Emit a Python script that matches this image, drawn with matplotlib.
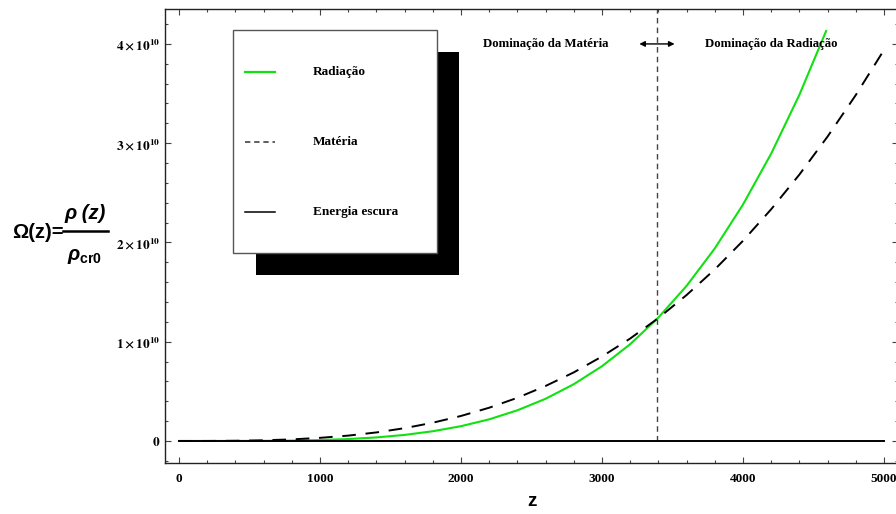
import numpy as np
import matplotlib
matplotlib.use("Agg")
import matplotlib.pyplot as plt
import matplotlib.ticker as mticker
from matplotlib.lines import Line2D
from matplotlib.patches import Rectangle

# valores (Omega em unidades absolutas)
z_mat = [0, 200, 400, 600, 800, 1000, 1200, 1400, 1600, 1800, 2000, 2200, 2400,
         2600, 2800, 3000, 3200, 3400, 3600, 3800, 4000, 4200, 4400, 4600, 4800, 5000]
omega_mat = [0, 0.00025e10, 0.002e10, 0.0068e10, 0.016e10, 0.0315e10, 0.054e10,
             0.086e10, 0.129e10, 0.184e10, 0.252e10, 0.335e10, 0.435e10, 0.554e10,
             0.691e10, 0.851e10, 1.032e10, 1.238e10, 1.470e10, 1.728e10, 2.016e10,
             2.334e10, 2.683e10, 3.066e10, 3.484e10, 3.938e10]

z_rad = [0, 200, 400, 600, 800, 1000, 1200, 1400, 1600, 1800, 2000, 2200, 2400,
         2600, 2800, 3000, 3200, 3400, 3600, 3800, 4000, 4200, 4400, 4590]
omega_rad = [0, 0.00001e10, 0.0002e10, 0.0012e10, 0.0038e10, 0.0093e10, 0.0193e10,
             0.0357e10, 0.061e10, 0.098e10, 0.149e10, 0.218e10, 0.309e10, 0.425e10,
             0.572e10, 0.753e10, 0.975e10, 1.243e10, 1.562e10, 1.939e10, 2.381e10,
             2.894e10, 3.486e10, 4.13e10]

z_de = [0, 5000]
omega_de = [0.69, 0.69]

z_eq = 3390  # igualdade matéria-radiação

labels = ["Radiação", "Matéria", "Energia escura"]
xticks = [0, 1000, 2000, 3000, 4000, 5000]
yticks = [0, 1e10, 2e10, 3e10, 4e10]
ytick_labels = [r"$\mathbf{0}$", r"$\mathbf{1\times10^{10}}$", r"$\mathbf{2\times10^{10}}$",
                r"$\mathbf{3\times10^{10}}$", r"$\mathbf{4\times10^{10}}$"]

plt.rcParams["mathtext.fontset"] = "stix"
plt.rcParams["mathtext.rm"] = "Liberation Sans:bold"
plt.rcParams["mathtext.it"] = "Liberation Sans:bold:italic"
plt.rcParams["mathtext.bf"] = "Liberation Sans:bold"

serif_b = dict(family="Liberation Serif", weight="bold", size=9.5)
W, H = 896, 514

fig = plt.figure(figsize=(8.96, 5.14), dpi=100)
ax = fig.add_axes([165 / W, 51 / H, 733 / W, 454 / H])

ax.plot(z_rad, omega_rad, color="#11e011", lw=1.5, zorder=3)
ax.plot(z_mat, omega_mat, color="black", lw=1.4, dashes=(7, 5), zorder=3)
ax.plot(z_de, omega_de, color="black", lw=1.4, zorder=3)

ax.set_xlim(-100, 5100)
ax.set_ylim(-0.222e10, 4.352e10)

ax.vlines(z_eq, 0, ax.get_ylim()[1], colors="#444444", linestyles=(0, (4, 3)), lw=1.0)

y_ann = 4.0e10
ax.annotate("", xy=(z_eq - 125, y_ann), xytext=(z_eq + 125, y_ann),
            arrowprops=dict(arrowstyle="<|-|>", lw=1.0, color="black",
                            shrinkA=0, shrinkB=0, mutation_scale=8))
ann_font = dict(serif_b, size=9.2)
ax.text(z_eq - 345, y_ann, "Dominação da Matéria", ha="right", va="center", **ann_font)
ax.text(z_eq + 340, y_ann, "Dominação da Radiação", ha="left", va="center", **ann_font)

ax.set_xticks(xticks)
ax.set_xticklabels([str(t) for t in xticks], fontdict=serif_b)
ax.xaxis.set_minor_locator(mticker.MultipleLocator(200))
ax.set_yticks(yticks)
ax.set_yticklabels(ytick_labels, size=9.5)
ax.yaxis.set_minor_locator(mticker.MultipleLocator(0.2e10))
ax.tick_params(which="both", direction="in", top=True, right=True, color="#444444")
ax.tick_params(which="major", length=4, width=0.8)
ax.tick_params(which="minor", length=2, width=0.8)
ax.tick_params(axis="y", pad=3)
ax.tick_params(axis="x", pad=7)
for s in ax.spines.values():
    s.set_linewidth(1.0)
    s.set_color("#222222")

ax.set_xlabel("z", family="Liberation Sans", weight="bold", size=13.5, labelpad=6)

# rótulo do eixo y: Omega(z) = rho(z) / rho_cr0
sans_b = dict(family="Liberation Sans", weight="bold", size=14.5)
fig.text(12 / W, 1 - 232 / H, "Ω(z)=", ha="left", va="center", **sans_b)
fig.add_artist(Line2D([63 / W, 108 / W], [1 - 231 / H, 1 - 231 / H], color="black", lw=1.8))
fig.text(85 / W, 1 - 213 / H, "ρ (z)", ha="center", va="center", style="italic", **sans_b)
fig.text(85 / W, 1 - 257 / H, r"$\rho_{\mathrm{cr0}}$", ha="center", va="center",
         size=14.5, math_fontfamily="custom")

# legenda com sombra
fig.add_artist(Rectangle((256 / W, 1 - 275 / H), 203 / W, 223 / H, transform=fig.transFigure,
                         facecolor="black", edgecolor="black", lw=0))
fig.add_artist(Rectangle((233 / W, 1 - 253 / H), 204 / W, 223 / H, transform=fig.transFigure,
                         facecolor="white", edgecolor="#555555", lw=1.0))
handle_styles = [dict(color="#11e011", lw=1.6),
                 dict(color="#333333", lw=1.1, dashes=(3.5, 2.5)),
                 dict(color="black", lw=1.1)]
for i, (lab, st) in enumerate(zip(labels, handle_styles)):
    yy = 1 - (72 + 70 * i) / H
    fig.add_artist(Line2D([245 / W, 275 / W], [yy, yy], **st))
    fig.text(313 / W, yy, lab, ha="left", va="center", **serif_b)

fig.savefig("out.png", dpi=100)
